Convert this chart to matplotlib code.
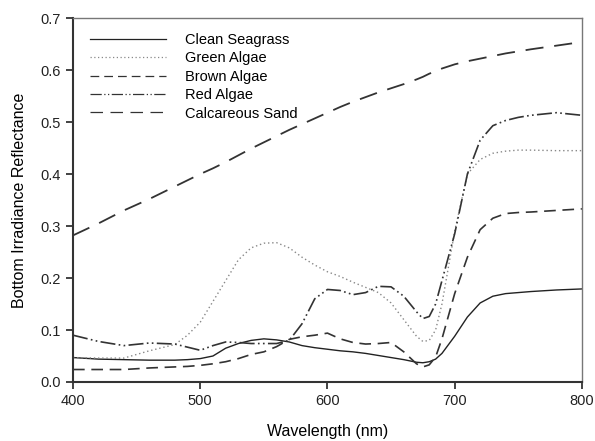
import numpy as np
import matplotlib
matplotlib.use("Agg")
import matplotlib.pyplot as plt

plt.rcParams['font.family'] = ['Liberation Sans', 'DejaVu Sans']

# Wavelength grid (nm)
wavelength = [400, 420, 440, 460, 480, 490, 500, 510, 520, 530, 540, 550, 560, 570,
              580, 590, 600, 610, 620, 630, 640, 650, 660, 670, 675, 680, 685, 690, 700, 710,
              720, 730, 740, 750, 760, 780, 800]

# Bottom irradiance reflectance for each bottom type
clean_seagrass = [0.047, 0.044, 0.043, 0.042, 0.042, 0.043, 0.045, 0.050, 0.065, 0.074,
                  0.080, 0.083, 0.081, 0.077, 0.070, 0.066, 0.063, 0.060, 0.058, 0.055,
                  0.051, 0.047, 0.043, 0.038, 0.037, 0.039, 0.044, 0.055, 0.088, 0.125,
                  0.152, 0.165, 0.170, 0.172, 0.174, 0.177, 0.179]
green_algae = [0.047, 0.046, 0.046, 0.060, 0.072, 0.090, 0.115, 0.155, 0.195, 0.235,
               0.258, 0.267, 0.268, 0.258, 0.240, 0.225, 0.212, 0.203, 0.192, 0.182,
               0.172, 0.152, 0.120, 0.088, 0.078, 0.080, 0.100, 0.150, 0.290, 0.400,
               0.428, 0.440, 0.444, 0.446, 0.446, 0.445, 0.445]
brown_algae = [0.024, 0.024, 0.024, 0.027, 0.029, 0.030, 0.032, 0.035, 0.039, 0.045,
               0.053, 0.058, 0.068, 0.082, 0.087, 0.090, 0.094, 0.083, 0.076, 0.073,
               0.074, 0.076, 0.058, 0.035, 0.029, 0.033, 0.048, 0.083, 0.170, 0.240,
               0.293, 0.315, 0.324, 0.326, 0.327, 0.330, 0.333]
red_algae = [0.090, 0.078, 0.070, 0.075, 0.073, 0.067, 0.061, 0.070, 0.077, 0.076,
             0.074, 0.074, 0.074, 0.080, 0.112, 0.160, 0.178, 0.176, 0.168, 0.172,
             0.184, 0.183, 0.165, 0.135, 0.122, 0.126, 0.150, 0.195, 0.285, 0.400,
             0.465, 0.493, 0.503, 0.509, 0.513, 0.518, 0.513]
calcareous_sand = [0.282, 0.305, 0.330, 0.352, 0.376, 0.388, 0.400, 0.411, 0.423, 0.436,
                   0.449, 0.461, 0.473, 0.485, 0.496, 0.507, 0.518, 0.529, 0.539, 0.548,
                   0.557, 0.565, 0.573, 0.582, 0.587, 0.593, 0.598, 0.603, 0.611, 0.617,
                   0.622, 0.627, 0.632, 0.636, 0.640, 0.647, 0.654]

fig = plt.figure(figsize=(5.95, 4.41), dpi=100)
ax = fig.add_axes([0.1227, 0.1338, 0.8553, 0.8252])

ax.plot(wavelength, clean_seagrass, color='#222222', lw=1.0, ls='-', label='Clean Seagrass')
ax.plot(wavelength, green_algae, color='#888888', lw=1.0, ls=(0, (1, 2)), label='Green Algae')
ax.plot(wavelength, brown_algae, color='#333333', lw=1.2, ls=(0, (7, 4)), label='Brown Algae')
ax.plot(wavelength, red_algae, color='#333333', lw=1.2,
        ls=(0, (9, 2, 1, 2, 1, 2)), label='Red Algae')
ax.plot(wavelength, calcareous_sand, color='#333333', lw=1.3, ls=(0, (10, 6)),
        label='Calcareous Sand')

ax.set_xlim(400, 800)
ax.set_ylim(0, 0.7)
ax.set_xticks([400, 500, 600, 700, 800])
ax.set_yticks(np.arange(0, 0.71, 0.1))
ax.set_yticklabels([f'{v:.1f}' for v in np.arange(0, 0.71, 0.1)])
ax.tick_params(direction='out', length=5, width=1.2, labelsize=10.5, colors='#222222',
               top=False, right=False)

for side in ['left', 'bottom']:
    ax.spines[side].set_linewidth(1.5)
    ax.spines[side].set_color('#333333')
for side in ['top', 'right']:
    ax.spines[side].set_linewidth(1.0)
    ax.spines[side].set_color('#777777')

ax.set_xlabel('Wavelength (nm)', fontsize=11.5, labelpad=12)
ax.set_ylabel('Bottom Irradiance Reflectance', fontsize=11.5, labelpad=10)

leg = ax.legend(loc='upper left', bbox_to_anchor=(0.008, 0.995), frameon=False,
                handlelength=5.2, handletextpad=1.3, fontsize=10.5, labelspacing=0.3)
for h in leg.get_lines():
    h.set_linewidth(0.9)

fig.savefig('out.png', dpi=100)
